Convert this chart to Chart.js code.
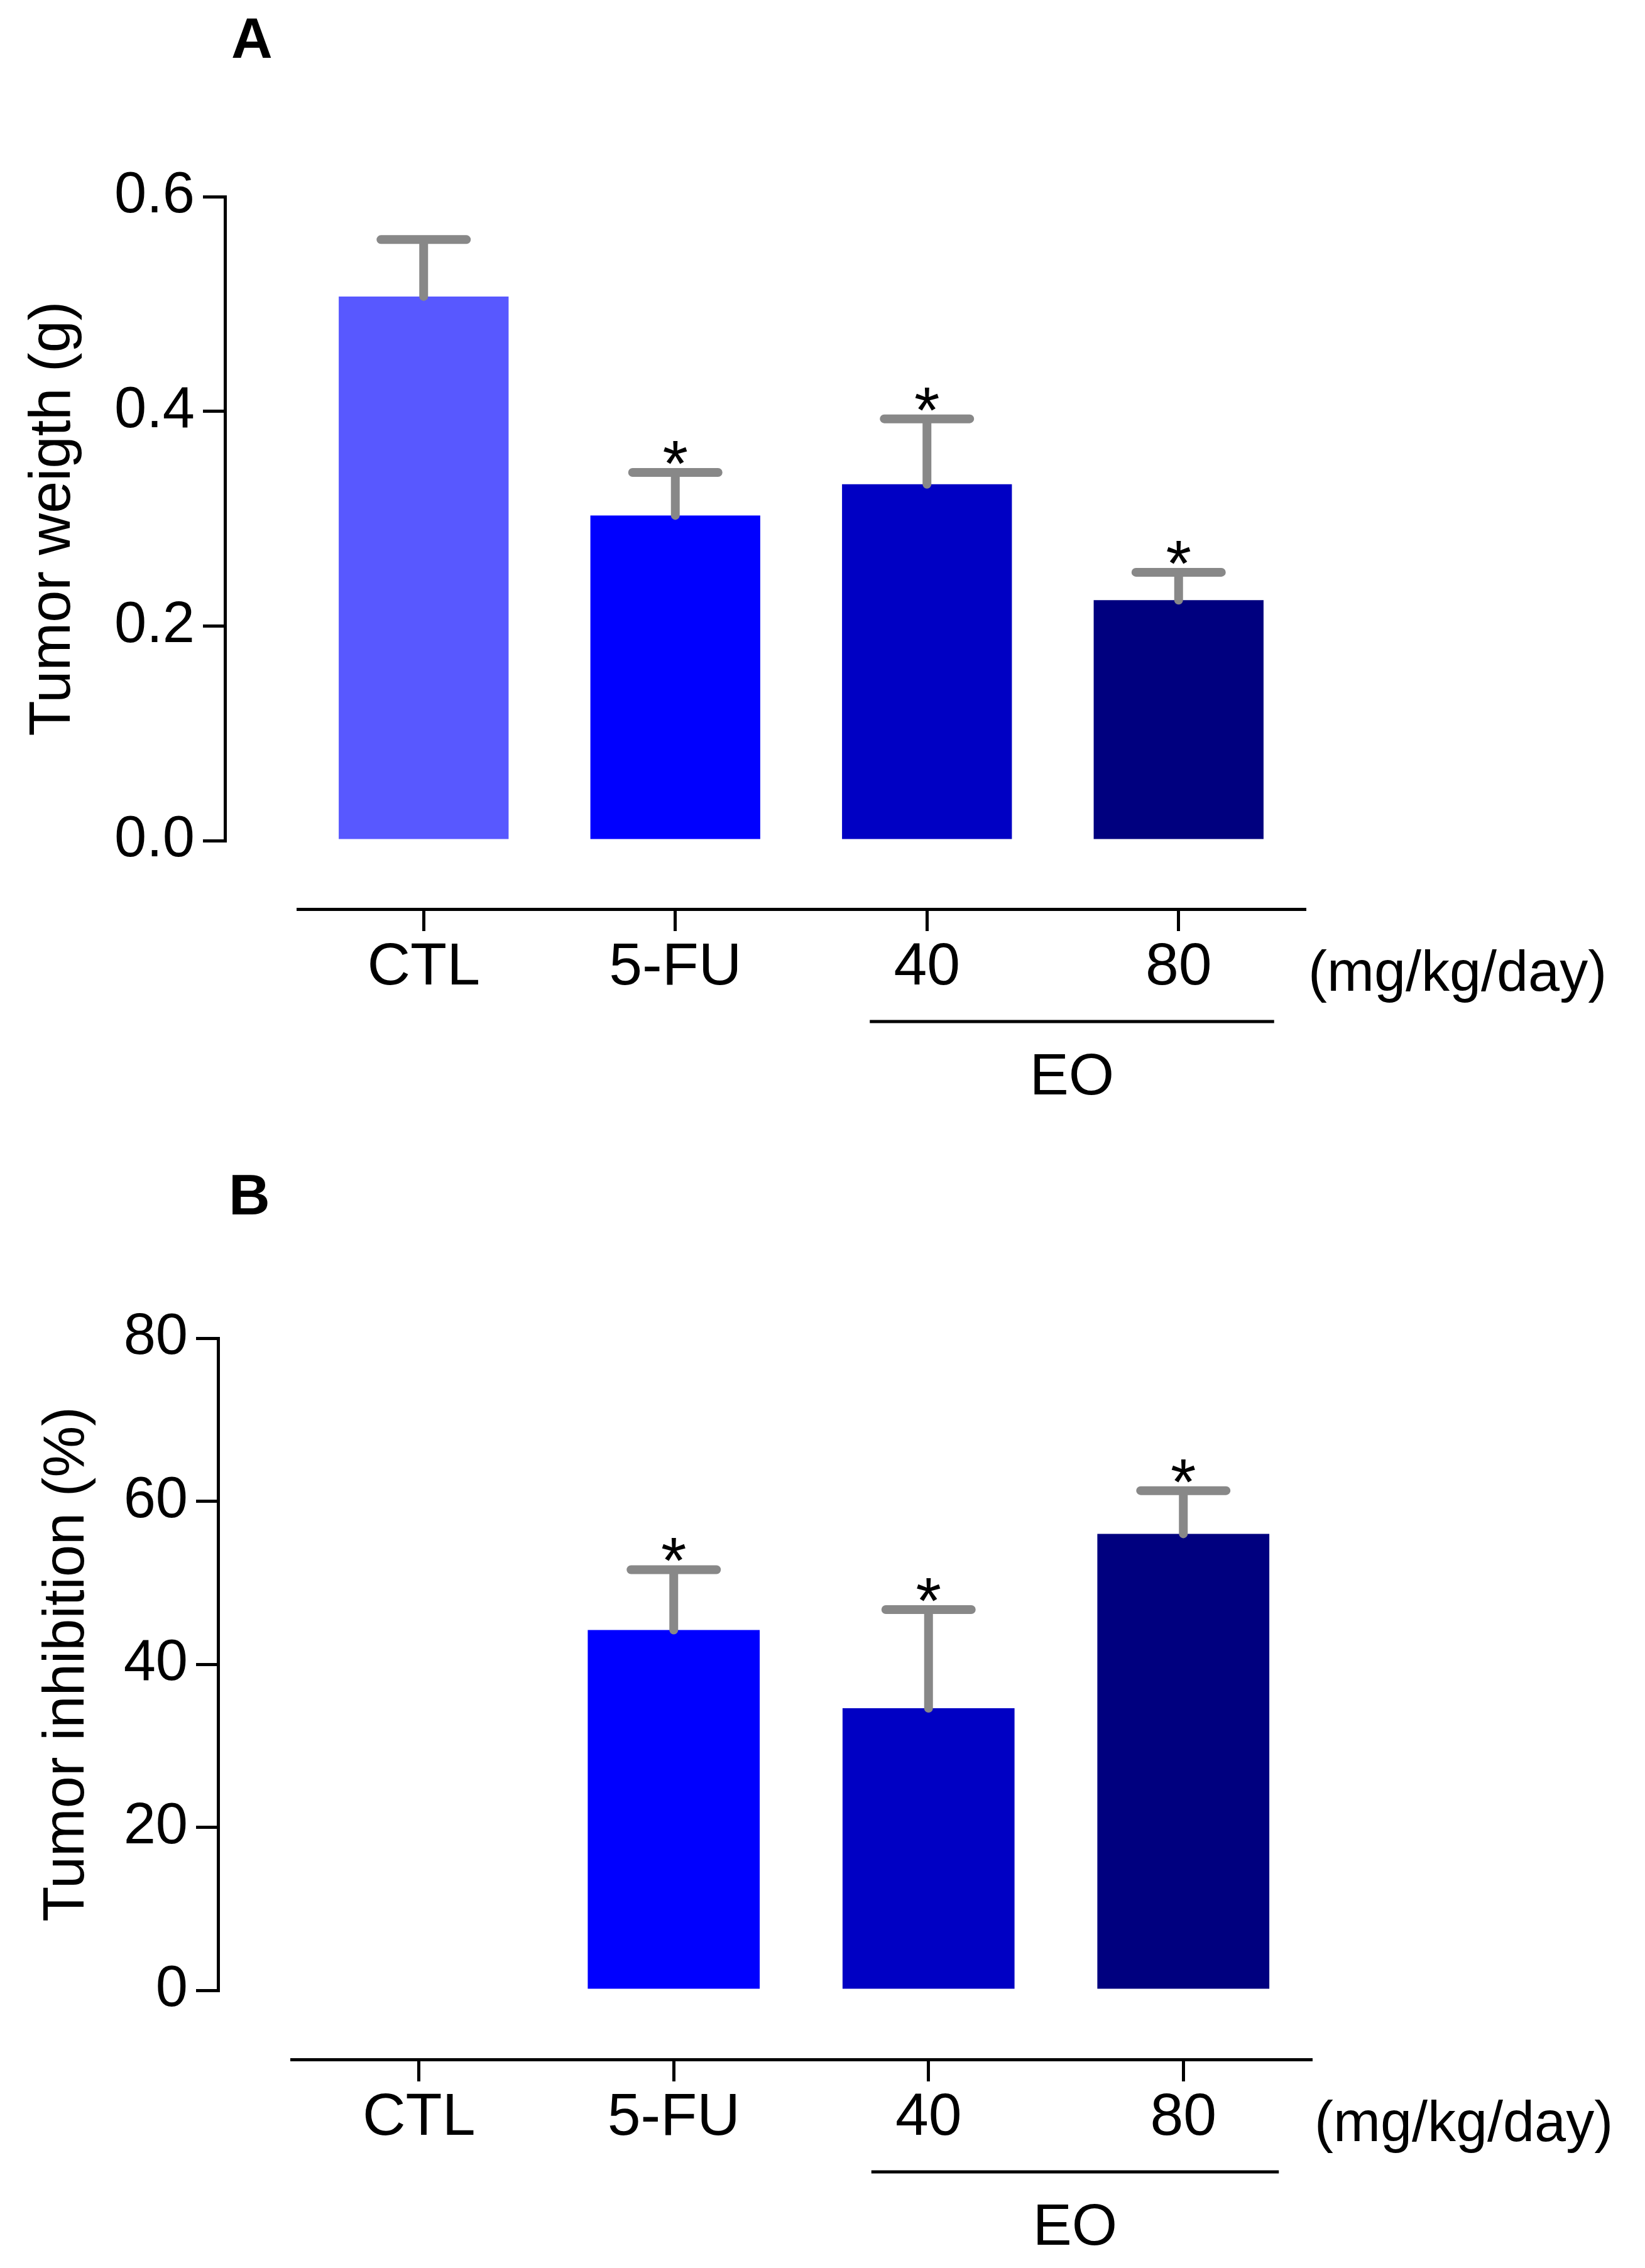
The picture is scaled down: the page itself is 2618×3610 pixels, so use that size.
<!DOCTYPE html>
<html>
<head>
<meta charset="utf-8">
<script src="https://cdn.jsdelivr.net/npm/chart.js@4.4.1/dist/chart.umd.min.js"></script>
<style>
  html, body { margin: 0; padding: 0; background: #fff; }
  #wrap { position: relative; width: 2618px; height: 3610px; }
  canvas { position: absolute; left: 0; }
</style>
</head>
<body>
<div id="wrap">
  <canvas id="chartA" width="2618" height="1800" style="top:0"></canvas>
  <canvas id="chartB" width="2618" height="1810" style="top:1800px"></canvas>
</div>
<script>
const FONT = '"Liberation Sans", Arial, Helvetica, sans-serif';

const categories = ['CTL', '5-FU', '40', '80'];
const barColors  = ['#5858FF', '#0000FF', '#0000C4', '#00007F'];

// A - tumor weight (g)
const weightMean = [0.507, 0.303, 0.332, 0.224];
const weightErr  = [0.053, 0.040, 0.061, 0.026];
const weightSig  = [false, true, true, true];
const weightTicks = [0, 0.2, 0.4, 0.6];

// B - tumor inhibition (%)
const inhibMean = [null, 44.2, 34.6, 56.0];
const inhibErr  = [null, 7.4, 12.1, 5.3];
const inhibSig  = [false, true, true, true];
const inhibTicks = [0, 20, 40, 60, 80];

const unitText = '(mg/kg/day)';
const groupText = 'EO';

const annotate = {
  id: 'annotate',
  afterDatasetsDraw(chart, args, o) {
    const ctx = chart.ctx, y = chart.scales.y, x2 = chart.scales.x2;
    const meta = chart.getDatasetMeta(0);
    ctx.save();
    o.means.forEach((m, i) => {
      if (m == null) return;
      const el = meta.data[i];
      const top = y.getPixelForValue(m + o.errs[i]);
      ctx.strokeStyle = '#888888'; ctx.lineWidth = 14; ctx.lineCap = 'round';
      ctx.beginPath();
      ctx.moveTo(el.x, el.y); ctx.lineTo(el.x, top);
      ctx.moveTo(el.x - 68, top); ctx.lineTo(el.x + 68, top);
      ctx.stroke();
      if (o.sig[i]) {
        ctx.fillStyle = '#000'; ctx.font = '104px ' + FONT;
        ctx.textAlign = 'center'; ctx.textBaseline = 'alphabetic';
        ctx.fillText('*', el.x, top + 22);
      }
    });
    // units and EO bracket below the category axis
    const base = x2.top;
    ctx.fillStyle = '#000'; ctx.textBaseline = 'alphabetic';
    ctx.font = '90px ' + FONT; ctx.textAlign = 'left';
    ctx.fillText(unitText, x2.right + 6, base + 130);
    const l = x2.getPixelForTick(2) - 91, r = x2.getPixelForTick(3) + 152;
    ctx.strokeStyle = '#000'; ctx.lineWidth = 5; ctx.lineCap = 'butt';
    ctx.beginPath(); ctx.moveTo(l, base + 179); ctx.lineTo(r, base + 179); ctx.stroke();
    ctx.font = '93px ' + FONT; ctx.textAlign = 'center';
    ctx.fillText(groupText, (l + r) / 2, base + 295);
    // panel letter
    ctx.font = 'bold 91px ' + FONT; ctx.textAlign = 'left';
    ctx.fillText(o.letter, o.letterX, o.letterY);
    ctx.restore();
  }
};

function makeChart(id, means, errs, sig, ticks, fmt, title, L) {
  const axisLine = { display: true, color: '#000', width: 5 };
  const tickGrid = { drawOnChartArea: false, drawTicks: true, tickLength: 35, color: '#000', lineWidth: 5 };
  return new Chart(document.getElementById(id), {
    type: 'bar',
    data: {
      labels: categories,
      datasets: [{ data: means, backgroundColor: barColors, borderWidth: 0,
                   categoryPercentage: 1, barPercentage: 0.675 }]
    },
    options: {
      responsive: false, animation: false, devicePixelRatio: 1,
      layout: { padding: { top: L.top, right: L.right, left: 0, bottom: 0 } },
      plugins: {
        legend: { display: false }, tooltip: { enabled: false },
        annotate: { means, errs, sig, letter: L.letter, letterX: L.letterX, letterY: L.letterY }
      },
      scales: {
        x: { type: 'category', offset: true, weight: 0,
             grid: { display: false }, border: { display: false }, ticks: { display: false },
             afterFit: s => { s.height = L.xGap; } },
        x2: { type: 'category', position: 'bottom', offset: true, weight: 1,
              grid: Object.assign({ offset: false }, tickGrid), border: axisLine,
              ticks: { color: '#000', padding: 2, font: { family: FONT, size: 95 } },
              afterFit: s => { s.height = L.xH; } },
        y: { type: 'linear', position: 'left', weight: 1,
             min: ticks[0], max: ticks[ticks.length - 1],
             afterBuildTicks: s => { s.ticks = ticks.map(v => ({ value: v })); },
             grid: tickGrid, border: axisLine,
             ticks: { color: '#000', padding: 13, font: { family: FONT, size: 92 }, callback: fmt },
             title: { display: true, text: title, color: '#000', padding: { top: L.titlePad, bottom: 0 },
                      font: { family: FONT, size: 92 } },
             afterFit: s => { s.width = L.yW; } },
        yGap: { type: 'linear', position: 'left', weight: 0,
                grid: { display: false }, border: { display: false }, ticks: { display: false },
                afterFit: s => { s.width = L.yGap; } }
      }
    },
    plugins: [annotate]
  });
}

makeChart('chartA', weightMean, weightErr, weightSig, weightTicks, v => Number(v).toFixed(1),
  'Tumor weigth (g)',
  { top: 313, right: 542, xGap: 109, xH: 353, yW: 358, yGap: 116, titlePad: 30,
    letter: 'A', letterX: 368, letterY: 92 });

makeChart('chartB', inhibMean, inhibErr, inhibSig, inhibTicks, v => String(v),
  'Tumor inhibition (%)',
  { top: 330, right: 532, xGap: 110, xH: 332, yW: 347, yGap: 117, titlePad: 52,
    letter: 'B', letterX: 364, letterY: 133 });
</script>
</body>
</html>
